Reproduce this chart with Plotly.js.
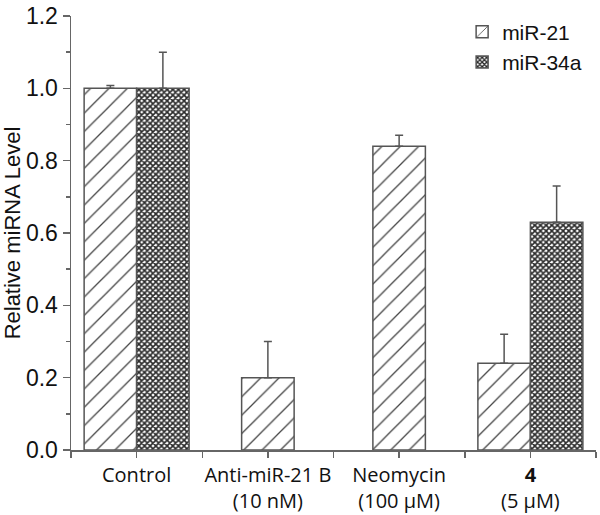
<!DOCTYPE html>
<html>
<head>
<meta charset="utf-8">
<script src="https://cdn.plot.ly/plotly-3.0.1.min.js"></script>
<style>html,body{margin:0;padding:0;background:#fff;}</style>
</head>
<body>
<div id="chart" style="width:600px;height:515px;"></div>
<script>
const categories = ["Control", "Anti-miR-21 B<br>(10 nM)", "Neomycin<br>(100 μM)", "<b>4</b><br>(5 μM)"];
const mir21 = [1.0, 0.20, 0.84, 0.24];
const mir21Err = [0.008, 0.10, 0.03, 0.08];
const mir34a = [1.0, null, null, 0.63];
const mir34aErr = [0.10, null, null, 0.10];
const seriesNames = ["miR-21", "miR-34a"];
const yTickVals = [0.0, 0.2, 0.4, 0.6, 0.8, 1.0, 1.2];

const xIdx = categories.map((_, i) => i);
const barW = 0.4;
// center a lone bar; otherwise place side by side
const off21 = mir34a.map(v => v == null ? -barW / 2 : -barW);
const off34 = mir34a.map(() => 0);

const lineCol = "#555";
const traces = [
  {
    type: "bar", name: seriesNames[0], x: xIdx, y: mir21,
    width: barW, offset: off21,
    marker: {color: "#fff", line: {color: lineCol, width: 1.5},
      pattern: {shape: "/", fgcolor: "#444", bgcolor: "#fff", size: 13, solidity: 0.1}},
    error_y: {type: "data", symmetric: false, array: mir21Err, arrayminus: mir21Err.map(() => 0),
      color: lineCol, thickness: 1.5, width: 4}
  },
  {
    type: "bar", name: seriesNames[1], x: xIdx, y: mir34a,
    width: barW, offset: off34,
    marker: {color: "#fff", line: {color: lineCol, width: 1.5},
      pattern: {shape: "x", fgcolor: "#2a2a2a", bgcolor: "#fff", size: 4, solidity: 0.65}},
    error_y: {type: "data", symmetric: false, array: mir34aErr, arrayminus: mir34aErr.map(() => 0),
      color: lineCol, thickness: 1.5, width: 4}
  }
];

const layout = {
  width: 600, height: 515,
  margin: {l: 71, r: 4, t: 16, b: 65},
  paper_bgcolor: "#fff", plot_bgcolor: "#fff",
  barmode: "overlay",
  showlegend: true,
  legend: {x: 0.745, y: 1.01, xanchor: "left", yanchor: "top",
    font: {family: "Liberation Sans, Arial, sans-serif", size: 21, color: "#111"},
    bgcolor: "rgba(0,0,0,0)", tracegroupgap: 0},
  xaxis: {
    range: [-0.5, 3.5], tickmode: "array", tickvals: xIdx, ticktext: categories,
    showline: true, linecolor: "#666", linewidth: 1.5, showgrid: false, zeroline: false,
    ticks: "outside", ticklen: 6, tickwidth: 1.5, tickcolor: "#666",
    tickfont: {family: "Open Sans, sans-serif", size: 20, color: "#111"},
    minor: {tickmode: "linear", tick0: 0.5, dtick: 1, ticks: "outside", ticklen: 6, tickwidth: 1.5, tickcolor: "#666", showgrid: false}
  },
  yaxis: {
    range: [0, 1.2], tickmode: "array", tickvals: yTickVals, tickformat: ".1f",
    showline: true, linecolor: "#666", linewidth: 1.5, showgrid: false, zeroline: false,
    ticks: "outside", ticklen: 7, tickwidth: 1.5, tickcolor: "#666",
    tickfont: {family: "Liberation Sans, Arial, sans-serif", size: 23, color: "#111"},
    minor: {tickmode: "linear", tick0: 0.1, dtick: 0.2, ticks: "outside", ticklen: 4, tickwidth: 1.5, tickcolor: "#666", showgrid: false},
    title: {text: "Relative miRNA Level", font: {family: "Liberation Sans, Arial, sans-serif", size: 22, color: "#111"}, standoff: 8}
  }
};

Plotly.newPlot("chart", traces, layout, {displayModeBar: false, staticPlot: true});
</script>
</body>
</html>
